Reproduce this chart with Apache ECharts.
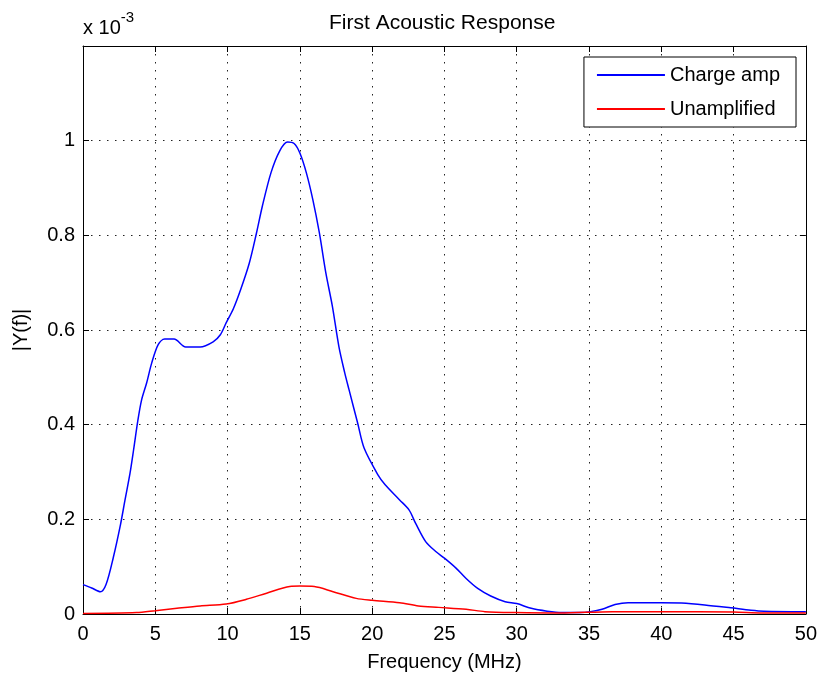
<!DOCTYPE html>
<html lang="en">
<head>
    <meta charset="UTF-8">
    <title>First Acoustic Response</title>
    <script src="https://cdn.jsdelivr.net/npm/echarts@6/dist/echarts.min.js"></script>
    <style>
        body { margin: 0; background: #fff; }
    </style>
</head>
<body>
    <div id="main" style="width: 820px; height: 679px;"></div>
    <script>
        // values, y in units of 1e-3
        const chargeFreq = [0, 0.6, 1.2, 1.6, 2.1, 2.6, 2.9, 3.25, 3.5, 3.8, 4.05, 4.4, 4.75, 5.2, 5.65, 6.3, 7.1, 8.1, 9.0, 9.5,
            9.9, 10.4, 10.9, 11.5, 12.0, 12.4, 13.0, 13.6, 14.15, 14.6, 15.0, 15.45, 15.9, 16.35, 16.8, 17.25, 17.7, 18.1, 18.4, 19.0,
            19.45, 20.4, 20.9, 21.9, 22.55, 23.0, 23.7, 24.4, 25.0, 25.8, 26.5, 27.3, 28.2, 29.2, 30.0, 31.0, 32.1, 33.1, 34.4, 35.1,
            35.9, 36.8, 37.7, 40.0, 41.4, 43.0, 44.8, 46.2, 47.1, 50]
        const chargeAmp = [0.062, 0.055, 0.047, 0.063, 0.12, 0.19, 0.24, 0.297, 0.347, 0.41, 0.452, 0.488, 0.53, 0.569, 0.581, 0.581, 0.564, 0.564, 0.575, 0.59,
            0.615, 0.645, 0.685, 0.741, 0.805, 0.861, 0.932, 0.978, 0.997, 0.994, 0.974, 0.932, 0.875, 0.805, 0.72, 0.65, 0.565, 0.51, 0.474, 0.403,
            0.35, 0.294, 0.273, 0.241, 0.22, 0.192, 0.153, 0.132, 0.118, 0.097, 0.075, 0.054, 0.038, 0.026, 0.022, 0.012, 0.006, 0.003, 0.003, 0.005,
            0.01, 0.02, 0.024, 0.024, 0.023, 0.019, 0.013, 0.008, 0.006, 0.005]

        const rawFreq = [0, 3.7, 5.0, 6.5, 8.1, 9.9, 11.3, 12.7, 14.3, 15.0, 16.0, 17.3, 18.9, 20.0, 21.9, 23.2, 24.6, 26.5, 27.8, 29.9,
            33.0, 36.6, 40, 45, 47, 50]
        const unamplified = [0.001, 0.003, 0.007, 0.012, 0.017, 0.021, 0.031, 0.044, 0.058, 0.059, 0.058, 0.047, 0.033, 0.029, 0.024, 0.017, 0.014, 0.010, 0.005, 0.003,
            0.002, 0.005, 0.005, 0.004, 0.002, 0.002]

        const xTicks = [0, 5, 10, 15, 20, 25, 30, 35, 40, 45, 50]
        const yTicks = [0, 0.2, 0.4, 0.6, 0.8, 1]

        const font = 'Liberation Sans, Arial, sans-serif'
        const pairs = (xs, ys) => xs.map((x, i) => [x, ys[i]])

        let chart = echarts.init(document.querySelector('#main'))

        // shared axis look: black box, ticks pointing inward
        const axisBase = {
            type: 'value',
            axisLine: { show: true, onZero: false, lineStyle: { color: '#000', width: 1 } },
            axisTick: { show: true, inside: true, length: 6, lineStyle: { color: '#000' } }
        }
        const dotted = { show: true, lineStyle: { color: '#222', width: 1, type: [1.5, 6.5] } }

        let option = {
            animation: false,
            backgroundColor: '#fff',
            title: {
                text: 'First Acoustic Response',
                left: 324,
                top: 8,
                textStyle: { fontFamily: font, fontSize: 21, fontWeight: 'normal', color: '#000' }
            },
            grid: { left: 83, right: 12, top: 46, bottom: 65 },
            legend: {
                orient: 'vertical',
                right: 24,
                top: 57,
                padding: [8, 16, 8, 13],
                itemGap: 14,
                itemWidth: 68,
                itemHeight: 2,
                icon: 'rect',
                borderColor: '#000',
                borderWidth: 1,
                backgroundColor: '#fff',
                textStyle: { fontFamily: font, fontSize: 20, color: '#000' },
                data: ['Charge amp', 'Unamplified']
            },
            xAxis: [
                Object.assign({}, axisBase, {
                    position: 'bottom',
                    min: xTicks[0],
                    max: xTicks[xTicks.length - 1],
                    interval: 5,
                    name: 'Frequency (MHz)',
                    nameLocation: 'middle',
                    nameGap: 38,
                    nameTextStyle: { fontFamily: font, fontSize: 20, color: '#000' },
                    axisLabel: { fontFamily: font, fontSize: 20, color: '#000', margin: 10 },
                    splitLine: dotted
                }),
                Object.assign({}, axisBase, {
                    position: 'top',
                    min: xTicks[0],
                    max: xTicks[xTicks.length - 1],
                    interval: 5,
                    axisLabel: { show: false },
                    splitLine: { show: false }
                })
            ],
            yAxis: [
                Object.assign({}, axisBase, {
                    position: 'left',
                    min: 0,
                    max: 1.2,
                    interval: 0.2,
                    name: '|Y(f)|',
                    nameLocation: 'middle',
                    nameGap: 52,
                    nameTextStyle: { fontFamily: font, fontSize: 20, color: '#000' },
                    axisLabel: {
                        fontFamily: font, fontSize: 20, color: '#000', margin: 8,
                        formatter: v => yTicks.some(t => Math.abs(t - v) < 1e-9) ? String(+v.toFixed(1)) : ''
                    },
                    splitLine: dotted
                }),
                Object.assign({}, axisBase, {
                    position: 'right',
                    min: 0,
                    max: 1.2,
                    interval: 0.2,
                    axisLabel: { show: false },
                    splitLine: { show: false }
                })
            ],
            graphic: [
                {
                    type: 'text',
                    left: 83,
                    top: 10,
                    style: {
                        text: '{a|x 10}{b|-3}',
                        rich: {
                            a: { fontFamily: font, fontSize: 20, color: '#000', padding: [14, 0, 0, 0] },
                            b: { fontFamily: font, fontSize: 15, color: '#000', padding: [0, 0, 8, 0] }
                        }
                    }
                }
            ],
            series: [
                {
                    name: 'Charge amp',
                    type: 'line',
                    data: pairs(chargeFreq, chargeAmp),
                    showSymbol: false,
                    smooth: 0.3,
                    color: '#0000ff',
                    lineStyle: { color: '#0000ff', width: 1.5 }
                },
                {
                    name: 'Unamplified',
                    type: 'line',
                    data: pairs(rawFreq, unamplified),
                    showSymbol: false,
                    smooth: 0.3,
                    color: '#ff0000',
                    lineStyle: { color: '#ff0000', width: 1.5 }
                }
            ]
        }
        chart.setOption(option)
    </script>
</body>
</html>
